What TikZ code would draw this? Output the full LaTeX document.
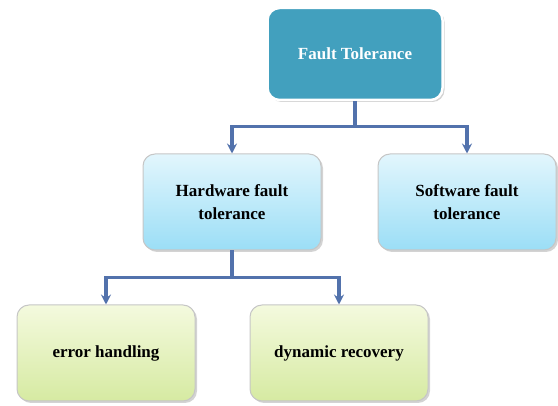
\documentclass[tikz,border=0pt]{standalone}
\usepackage{fontspec}
\setmainfont{Liberation Serif}
\usetikzlibrary{positioning,arrows.meta,calc,shadows}
\definecolor{topfill}{RGB}{66,160,190}
\definecolor{midtop}{RGB}{226,246,253}
\definecolor{midbot}{RGB}{155,222,246}
\definecolor{lowtop}{RGB}{244,250,222}
\definecolor{lowbot}{RGB}{214,234,162}
\definecolor{wire}{RGB}{82,114,172}

\begin{document}
\begin{tikzpicture}[
  box/.style={rounded corners=12pt, minimum width=178pt, minimum height=96pt,
    align=center, font=\fontsize{17}{23}\selectfont\bfseries,
    drop shadow={opacity=0.35, shadow xshift=2pt, shadow yshift=-2pt}},
  rootbox/.style={box, fill=topfill, draw=white, line width=2.5pt,
    text=white, minimum width=175pt, minimum height=92pt},
  midbox/.style={box, draw=gray!45, line width=1pt,
    top color=midtop, bottom color=midbot},
  lowbox/.style={box, draw=gray!45, line width=1pt,
    top color=lowtop, bottom color=lowbot},
  ar/.style={-{Stealth[length=10pt, width=10pt, inset=3.5pt]}, line width=3.2pt, color=wire}
]
\useasboundingbox (0,0) rectangle (558pt,-406pt);
\node[rootbox] (ft) at (355pt,-54pt) {Fault Tolerance};
\node[midbox] (hw) at (232pt,-202pt) {Hardware fault\\tolerance};
\node[midbox, right=56pt of hw] (sw) {Software fault\\tolerance};
\node[lowbox] (eh) at (106pt,-353pt) {error handling};
\node[lowbox, right=54pt of eh] (dr) {dynamic recovery};
% connectors
\coordinate (j1) at ($(ft.south)+(0,-25pt)$);
\coordinate (j2) at ($(hw.south)+(0,-27pt)$);
\draw[ar] (ft.south) -- (j1) -| (hw.north);
\draw[ar] (j1) -| (sw.north);
\draw[ar] (hw.south) -- (j2) -| (eh.north);
\draw[ar] (j2) -| (dr.north);
\end{tikzpicture}
\end{document}
